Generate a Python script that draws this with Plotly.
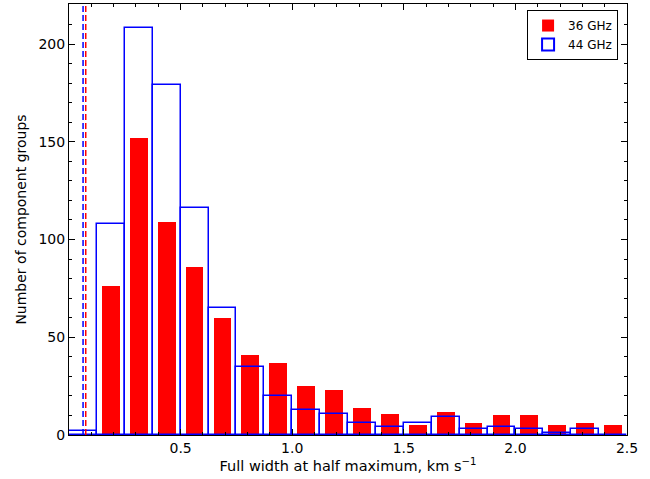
import plotly.graph_objects as go

bin_lefts = [0.0, 0.125, 0.25, 0.375, 0.5, 0.625, 0.75, 0.875, 1.0, 1.125,
             1.25, 1.375, 1.5, 1.625, 1.75, 1.875, 2.0, 2.125, 2.25, 2.375]
bin_width = 0.125
counts_36 = [0, 76, 152, 109, 86, 60, 41, 37, 25, 23, 14, 11, 5, 12, 6, 10, 10, 5, 6, 5]
counts_44 = [2, 108, 208, 179, 116, 65, 35, 20, 13, 11, 6, 4, 6, 9, 3, 4, 3, 1, 3, 0]
res_36 = 0.075
res_44 = 0.063
x_tick_vals = [0.5, 1.0, 1.5, 2.0, 2.5]
x_tick_text = ["0.5", "1.0", "1.5", "2.0", "2.5"]
y_tick_vals = [0, 50, 100, 150, 200]

centers = [b + bin_width / 2 for b in bin_lefts]

fig = go.Figure()
fig.add_trace(go.Bar(
    x=centers, y=counts_36, width=0.08, name="36 GHz",
    marker=dict(color="red", line=dict(width=0)),
))
fig.add_trace(go.Bar(
    x=centers, y=counts_44, width=bin_width, name="44 GHz",
    marker=dict(color="rgba(0,0,0,0)", line=dict(color="blue", width=1.5)),
))
fig.add_vline(x=res_44, line=dict(color="blue", width=1.5, dash="6px,3px"))
fig.add_vline(x=res_36, line=dict(color="red", width=1.5, dash="6px,3px"))

axis_common = dict(
    showline=True, linecolor="black", linewidth=1, mirror="allticks",
    ticks="inside", ticklen=6, tickcolor="black", tickwidth=1,
    showgrid=False, zeroline=False, automargin=False,
    tickfont=dict(family="DejaVu Sans", size=14, color="black"),
)

fig.update_layout(
    width=650, height=479,
    margin=dict(l=69, r=23, t=4, b=44),
    plot_bgcolor="white", paper_bgcolor="white",
    barmode="overlay", bargap=0,
    font=dict(family="DejaVu Sans", color="black"),
    xaxis=dict(
        range=[0, 2.5], tickvals=x_tick_vals, ticktext=x_tick_text,
        minor=dict(dtick=0.1, tick0=0, ticks="inside", ticklen=3, tickcolor="black"),
        title=dict(text="Full width at half maximum, km s<sup>\u22121</sup>",
                   font=dict(size=14.5), standoff=6),
        **axis_common,
    ),
    yaxis=dict(
        range=[0, 220.5], tickvals=y_tick_vals,
        minor=dict(dtick=10, tick0=0, ticks="inside", ticklen=3, tickcolor="black"),
        title=dict(text="Number of component groups", font=dict(size=14), standoff=8),
        **axis_common,
    ),
    legend=dict(
        x=0.984, y=0.986, xanchor="right", yanchor="top",
        bordercolor="black", borderwidth=1, bgcolor="white",
        font=dict(size=12, family="DejaVu Sans"),
        tracegroupgap=0, itemsizing="constant",
    ),
)

fig.write_html("out.html", post_script="document.body.style.margin='0';",
               config={"displayModeBar": False})
